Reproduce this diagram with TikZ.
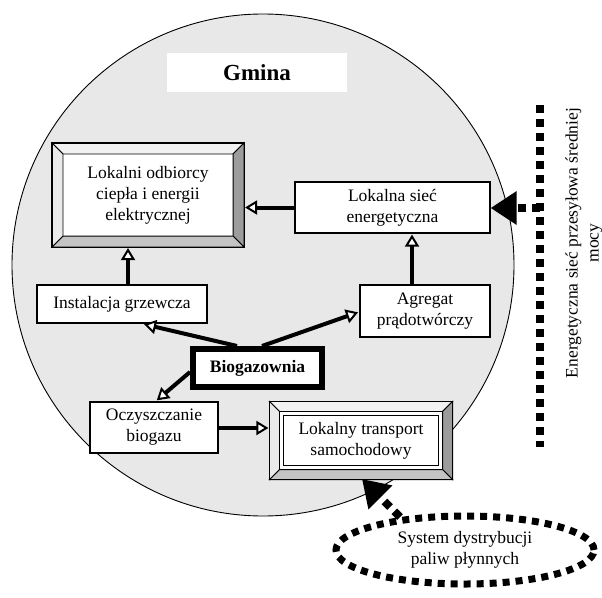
\documentclass[tikz,border=0pt]{standalone}
\usepackage{fontspec}
\setmainfont{Liberation Serif}
\usetikzlibrary{arrows.meta,shapes.geometric,calc}
\definecolor{bgcirc}{HTML}{E8E8E8}
\definecolor{bevlight}{HTML}{F2F2F2}
\definecolor{bevleft}{HTML}{EAEAEA}
\definecolor{bevdark}{HTML}{9C9C9C}
\definecolor{bevmid}{HTML}{C4C4C4}
\begin{document}
\begin{tikzpicture}[x=1pt,y=-1pt,
  txt/.style={font=\fontsize{17.5}{21}\selectfont, align=center},
  box/.style={txt, draw, fill=white, line width=1.2pt, inner sep=0pt},
  flow/.style={line width=4pt, -{Triangle[length=12pt,width=14pt,fill=white,line width=2pt]}, shorten >=1pt},
  bigarrow/.style={line width=8pt, dash pattern=on 8pt off 6pt, -{Triangle[length=26pt,width=32pt]}},
  dotline/.style={line width=8pt, dash pattern=on 8pt off 6pt}
]
\useasboundingbox (0,0) rectangle (602,597);

% Gmina circle
\node[circle, draw, line width=0.9pt, fill=bgcirc, minimum size=502pt, inner sep=0pt] (gm) at (263,265) {};
\node[fill=white, minimum width=180pt, minimum height=39pt, inner sep=0pt, font=\fontsize{23}{26}\selectfont\bfseries] (gmina) at (257,72.5) {Gmina};

% Lokalni odbiorcy (bevel box)
\node[box, minimum width=191pt, minimum height=103pt] (lo) at (148,195) {Lokalni odbiorcy\\ciepła i energii\\elektrycznej};
\foreach \b/\nm in {11/lo}{
 \fill[bevlight, draw=black, line width=0.8pt] (\nm.north west) -- (\nm.north east) -- ($(\nm.north east)+(-\b,\b)$) -- ($(\nm.north west)+(\b,\b)$) -- cycle;
 \fill[bevdark, draw=black, line width=0.8pt] (\nm.north east) -- (\nm.south east) -- ($(\nm.south east)+(-\b,-\b)$) -- ($(\nm.north east)+(-\b,\b)$) -- cycle;
 \fill[bevmid, draw=black, line width=0.8pt] (\nm.south east) -- (\nm.south west) -- ($(\nm.south west)+(\b,-\b)$) -- ($(\nm.south east)+(-\b,-\b)$) -- cycle;
 \fill[bevleft, draw=black, line width=0.8pt] (\nm.south west) -- (\nm.north west) -- ($(\nm.north west)+(\b,\b)$) -- ($(\nm.south west)+(\b,-\b)$) -- cycle;
 \draw[line width=1.2pt] (\nm.north west) rectangle (\nm.south east);
}

% Lokalna siec
\node[box, minimum width=195pt, minimum height=51pt] (ls) at (392.5,207.5) {Lokalna sieć\\energetyczna};

% Instalacja grzewcza
\node[box, minimum width=170pt, minimum height=38pt] (ig) at (122,304) {Instalacja grzewcza};

% Agregat
\node[box, minimum width=130pt, minimum height=52pt] (ag) at (425,311) {Agregat\\prądotwórczy};

% Biogazownia
\node[box, line width=6pt, minimum width=129pt, minimum height=38pt, font=\fontsize{17.5}{21}\selectfont\bfseries] (bio) at (257.5,368) {Biogazownia};

% Oczyszczanie
\node[box, minimum width=128pt, minimum height=51pt] (oc) at (154,427.5) {Oczyszczanie\\biogazu};

% Lokalny transport (bevel box)
\node[box, minimum width=182pt, minimum height=77pt] (lt) at (361,440.5) {Lokalny transport\\samochodowy};
\foreach \b/\nm in {10/lt}{
 \fill[bevlight, draw=black, line width=0.8pt] (\nm.north west) -- (\nm.north east) -- ($(\nm.north east)+(-\b,\b)$) -- ($(\nm.north west)+(\b,\b)$) -- cycle;
 \fill[bevdark, draw=black, line width=0.8pt] (\nm.north east) -- (\nm.south east) -- ($(\nm.south east)+(-\b,-\b)$) -- ($(\nm.north east)+(-\b,\b)$) -- cycle;
 \fill[bevmid, draw=black, line width=0.8pt] (\nm.south east) -- (\nm.south west) -- ($(\nm.south west)+(\b,-\b)$) -- ($(\nm.south east)+(-\b,-\b)$) -- cycle;
 \fill[bevleft, draw=black, line width=0.8pt] (\nm.south west) -- (\nm.north west) -- ($(\nm.north west)+(\b,\b)$) -- ($(\nm.south west)+(\b,-\b)$) -- cycle;
 \draw[line width=1.2pt] (\nm.north west) rectangle (\nm.south east);
 \draw[line width=1pt] ($(\nm.north west)+(\b,\b)$) rectangle ($(\nm.south east)+(-\b,-\b)$);
 \draw[line width=1pt] ($(\nm.north west)+(\b+4,\b+4)$) rectangle ($(\nm.south east)+(-\b-4,-\b-4)$);
}

% System dystrybucji ellipse
\node[ellipse, draw, txt, line width=7pt, dash pattern=on 7pt off 6pt, minimum width=258pt, minimum height=68pt] (sd) at (465,550) {System dystrybucji\\paliw płynnych};

% Energetyczna siec (external)
\coordinate (et) at (540,105);
\coordinate (eb) at (540,447);
\draw[dotline] (et) -- (eb);
\coordinate (em) at (540,208);
\node[txt, rotate=90] (en) at (584,243) {Energetyczna sieć przesyłowa średniej\\mocy};

% connectors
\draw[flow] (ls.west) -- (lo.east |- ls.west);
\draw[flow] (ig.north -| 128,0) -- (lo.south -| 128,0);
\draw[flow] (ag.north -| 412,0) -- (ls.south -| 412,0);
\draw[flow] (bio.north -| 237,0) -- (143,324);
\draw[flow] (bio.north -| 262,0) -- (359,312);
\draw[flow] (bio.west |- 0,372) -- (156,401);
\draw[flow] (oc.east |- 0,428) -- (lt.west |- 0,428);
\draw[bigarrow] (em) -- (ls.east |- em);
\coordinate (sdtop) at (400,517);
\draw[bigarrow] (sdtop) -- (362,479);
\end{tikzpicture}
\end{document}
